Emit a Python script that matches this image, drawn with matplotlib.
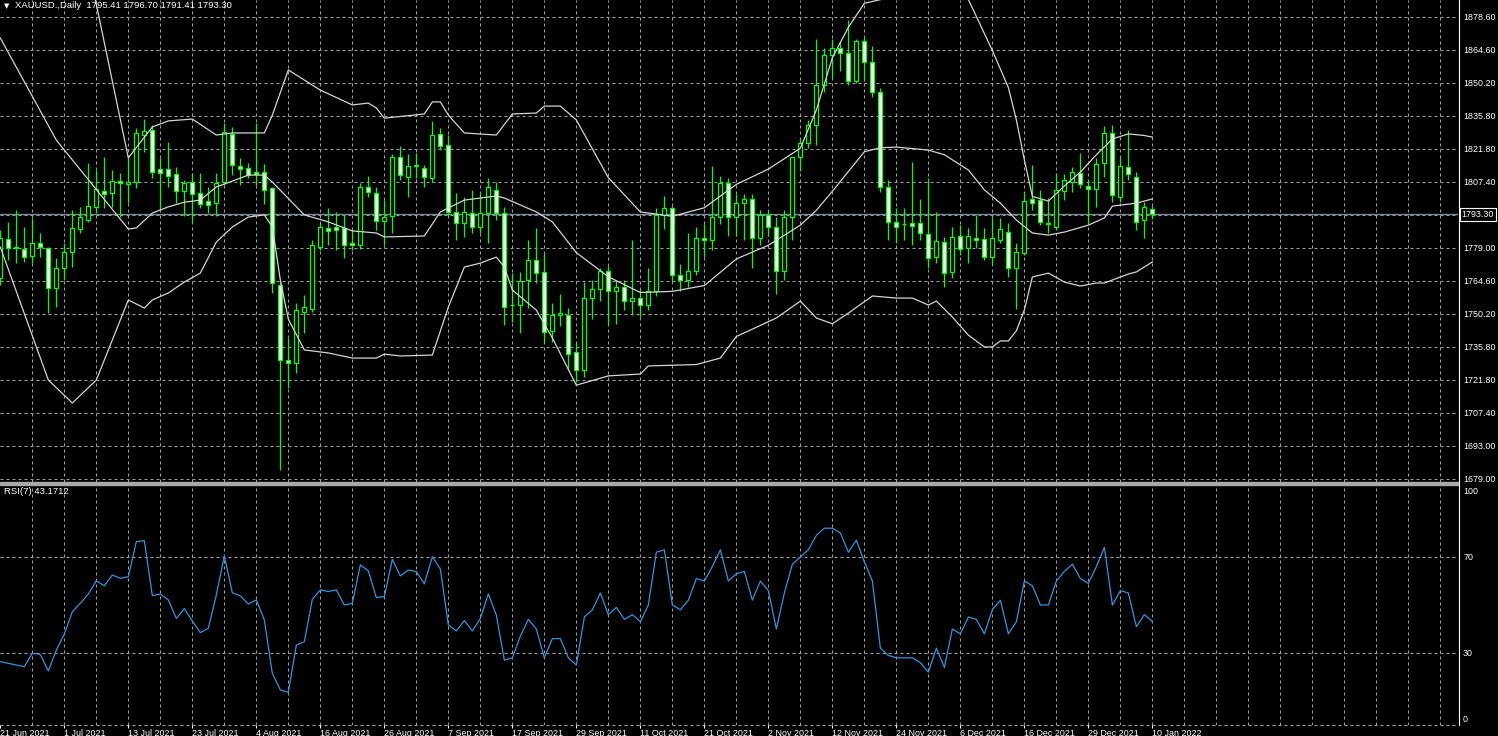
import matplotlib
matplotlib.use("Agg")
import matplotlib.pyplot as plt
import numpy as np
from matplotlib.patches import Rectangle
from matplotlib.lines import Line2D

#-------------------------------------
# XAUUSD daily bars, bar 0 = 21 Jun 2021 ... bar 144 = 10 Jan 2022
opens = [1765.8, 1782.6, 1779.0, 1778.3, 1775.3, 1780.9, 1778.7, 1761.4, 1770.1, 1777.0,
         1787.0, 1790.8, 1796.4, 1803.3, 1802.5, 1807.6, 1806.3, 1807.2, 1827.5, 1829.7,
         1812.8, 1812.8, 1810.7, 1803.3, 1807.2, 1802.5, 1799.0, 1798.1, 1807.2, 1827.9,
         1814.1, 1813.3, 1811.5, 1811.5, 1804.6, 1762.7, 1730.4, 1729.1, 1751.1, 1752.4,
         1779.1, 1787.4, 1787.8, 1787.4, 1780.9, 1780.0, 1805.1, 1802.5, 1790.4, 1792.5,
         1818.0, 1809.4, 1814.1, 1813.3, 1808.9, 1827.9, 1823.2, 1794.3, 1789.5, 1793.8,
         1787.8, 1793.8, 1803.8, 1793.8, 1754.1, 1754.1, 1764.9, 1773.5, 1768.3, 1743.0,
         1750.0, 1750.0, 1734.0, 1726.0, 1757.0, 1761.0, 1769.0, 1760.0, 1762.0, 1756.0,
         1757.0, 1754.0, 1760.0, 1793.0, 1796.0, 1767.0, 1765.0, 1769.0, 1783.0, 1782.0,
         1792.0, 1807.0, 1792.0, 1798.0, 1800.0, 1783.0, 1793.0, 1788.0, 1769.0, 1792.0,
         1818.0, 1824.0, 1832.0, 1849.0, 1862.0, 1865.0, 1863.0, 1851.0, 1868.0, 1859.0,
         1846.0, 1805.0, 1790.0, 1789.1, 1789.5, 1789.5, 1784.8, 1774.8, 1781.3, 1768.3,
         1783.9, 1778.7, 1783.0, 1782.6, 1774.8, 1782.2, 1785.6, 1770.1, 1776.6, 1799.9,
         1799.4, 1789.4, 1787.8, 1803.3, 1807.2, 1811.1, 1805.5, 1804.2, 1815.4, 1828.4,
         1800.7, 1813.7, 1809.4, 1790.8, 1795.41]
highs = [1786.5, 1789.9, 1795.1, 1787.8, 1791.7, 1785.2, 1779.1, 1774.4, 1780.9, 1795.1,
         1796.4, 1815.4, 1812.4, 1818.0, 1812.4, 1811.1, 1818.0, 1830.5, 1834.4, 1831.8,
         1817.6, 1824.5, 1813.7, 1808.1, 1811.1, 1811.1, 1805.1, 1811.1, 1832.7, 1831.0,
         1817.6, 1815.4, 1832.7, 1815.0, 1805.1, 1764.0, 1739.9, 1755.0, 1758.4, 1782.2,
         1789.5, 1796.0, 1794.3, 1793.0, 1786.5, 1806.8, 1809.8, 1805.1, 1799.4, 1819.3,
         1822.8, 1819.3, 1819.7, 1814.5, 1833.6, 1830.5, 1827.5, 1802.5, 1800.7, 1803.8,
         1802.5, 1808.9, 1807.2, 1796.4, 1767.9, 1768.3, 1782.2, 1787.4, 1776.6, 1755.0,
         1759.0, 1753.0, 1738.0, 1764.0, 1765.0, 1770.0, 1771.0, 1765.0, 1765.0, 1782.0,
         1761.0, 1770.0, 1796.0, 1801.0, 1797.0, 1772.0, 1785.0, 1788.0, 1789.0, 1814.0,
         1810.0, 1809.0, 1802.0, 1802.0, 1802.0, 1795.0, 1795.0, 1792.0, 1795.0, 1818.0,
         1826.0, 1834.0, 1869.0, 1865.0, 1869.0, 1868.0, 1877.0, 1869.0, 1870.0, 1866.0,
         1848.0, 1808.0, 1796.0, 1796.0, 1815.8, 1799.9, 1808.9, 1794.3, 1783.5, 1787.8,
         1788.6, 1787.4, 1793.0, 1787.4, 1791.7, 1791.7, 1789.5, 1780.9, 1802.9, 1814.5,
         1803.8, 1800.3, 1811.1, 1810.7, 1813.7, 1819.7, 1808.1, 1817.6, 1831.4, 1831.8,
         1818.0, 1829.7, 1811.5, 1798.6, 1796.70]
lows = [1762.7, 1773.5, 1772.2, 1772.7, 1772.2, 1774.8, 1750.6, 1753.2, 1764.9, 1770.5,
        1785.2, 1789.9, 1793.8, 1796.0, 1796.4, 1792.1, 1798.1, 1804.6, 1820.2, 1808.9,
        1795.1, 1805.1, 1798.1, 1792.5, 1789.9, 1796.0, 1793.8, 1792.5, 1805.9, 1810.2,
        1805.9, 1808.9, 1805.9, 1797.7, 1759.3, 1682.9, 1718.3, 1724.7, 1742.0, 1751.1,
        1777.9, 1780.0, 1777.9, 1774.4, 1777.9, 1778.3, 1800.7, 1786.5, 1780.0, 1785.2,
        1808.1, 1800.7, 1808.9, 1805.1, 1807.2, 1821.0, 1792.1, 1782.2, 1783.5, 1785.2,
        1785.2, 1780.9, 1790.8, 1745.5, 1746.8, 1742.0, 1752.8, 1763.6, 1738.1, 1738.0,
        1745.0, 1726.0, 1721.0, 1723.0, 1748.0, 1756.0, 1746.0, 1746.0, 1752.0, 1750.0,
        1749.0, 1752.0, 1758.0, 1787.0, 1764.0, 1760.0, 1762.0, 1767.0, 1775.0, 1778.0,
        1789.0, 1784.0, 1784.0, 1782.0, 1770.0, 1780.0, 1784.0, 1759.0, 1765.0, 1782.0,
        1812.0, 1822.0, 1823.0, 1846.0, 1852.0, 1855.0, 1849.0, 1850.0, 1851.0, 1844.0,
        1803.0, 1782.0, 1781.0, 1782.2, 1780.0, 1782.2, 1770.1, 1772.2, 1761.9, 1765.8,
        1775.7, 1772.2, 1778.7, 1773.5, 1771.4, 1780.9, 1766.2, 1752.4, 1775.7, 1795.1,
        1788.6, 1785.2, 1786.5, 1799.4, 1802.9, 1804.6, 1789.5, 1796.4, 1809.4, 1798.6,
        1798.6, 1808.1, 1786.5, 1783.0, 1791.41]
closes = [1783.0, 1778.7, 1778.8, 1774.8, 1780.9, 1779.1, 1761.4, 1770.1, 1777.0, 1787.4,
          1792.1, 1796.8, 1804.2, 1802.0, 1807.6, 1806.8, 1807.2, 1828.4, 1829.2, 1811.5,
          1811.1, 1809.8, 1803.3, 1806.8, 1802.0, 1797.7, 1797.3, 1806.8, 1828.8, 1814.5,
          1812.8, 1810.2, 1810.7, 1803.8, 1763.6, 1730.4, 1729.1, 1751.9, 1753.2, 1780.0,
          1787.8, 1786.1, 1786.5, 1780.0, 1780.0, 1805.1, 1802.9, 1790.4, 1792.1, 1818.0,
          1810.2, 1814.1, 1814.3, 1809.4, 1827.5, 1822.8, 1794.3, 1789.5, 1794.3, 1787.8,
          1793.8, 1805.1, 1793.8, 1753.2, 1753.9, 1764.5, 1773.5, 1767.9, 1742.4, 1750.0,
          1750.5, 1733.0, 1726.0, 1757.0, 1761.0, 1769.0, 1760.0, 1762.0, 1756.0, 1757.0,
          1754.0, 1760.0, 1793.0, 1796.0, 1767.0, 1765.0, 1769.0, 1783.0, 1782.0, 1792.0,
          1807.0, 1792.0, 1798.0, 1800.0, 1783.0, 1793.0, 1788.0, 1769.0, 1792.0, 1818.0,
          1824.0, 1832.0, 1849.0, 1862.0, 1865.0, 1863.0, 1851.0, 1868.0, 1859.0, 1846.0,
          1805.0, 1790.0, 1788.0, 1788.9, 1788.2, 1785.2, 1774.4, 1781.7, 1767.9, 1783.5,
          1778.3, 1783.9, 1782.2, 1774.8, 1783.0, 1786.9, 1770.1, 1777.0, 1799.0, 1798.1,
          1789.9, 1789.0, 1803.8, 1808.1, 1811.5, 1806.3, 1804.2, 1815.0, 1828.4, 1801.6,
          1814.1, 1810.7, 1789.9, 1796.4, 1793.30]

# Bollinger bands, read at the bars where the lines bend
bb_upper_x = [10, 12, 16, 19, 21, 24, 27, 29, 33, 34, 36, 40, 44, 46, 47, 48, 53, 54, 55, 56,
              58, 62, 64, 67, 68, 70, 72, 76, 80, 84, 88, 92, 96, 100, 102, 104, 106, 108, 112, 118,
              121, 124, 126, 127, 128, 129, 131, 133, 135, 137, 139, 141, 143, 144]
bb_upper = [1915, 1884, 1817.6, 1831.0, 1833.6, 1834.4, 1827.5, 1828.4, 1828.4, 1836.1,
            1855.6, 1846.9, 1840.5, 1841.3, 1839.2, 1834.8, 1836.6, 1841.8, 1841.8, 1836.1,
            1828.4, 1827.5, 1836.6, 1837.0, 1840.0, 1840.0, 1834.0, 1809.1, 1794.3, 1792.4,
            1796.1, 1806.2, 1812.8, 1821.8, 1838.3, 1860.9, 1874.0, 1884.4, 1887.5, 1890.0,
            1886.0, 1864.0, 1848.0, 1834.0, 1816.7, 1801.0, 1799.0, 1805.5, 1811.5, 1819.0,
            1825.8, 1828.0, 1827.3, 1826.6]
bb_mid_x = [0, 7, 16, 17, 19, 21, 23, 25, 27, 29, 31, 33, 34, 38, 41, 44, 47, 48, 53, 55,
            58, 62, 63, 67, 69, 72, 76, 80, 84, 88, 92, 96, 100, 102, 104, 108, 110, 112, 116, 118,
            121, 123, 125, 127, 129, 131, 133, 136, 138, 139, 142, 144]
bb_mid = [1869.4, 1825.3, 1786.9, 1787.4, 1793.8, 1796.5, 1798.5, 1799.4, 1805.1, 1807.6,
          1810.2, 1810.2, 1807.2, 1793.0, 1790.0, 1786.1, 1785.2, 1783.5, 1783.9, 1794.3,
          1799.4, 1801.2, 1800.3, 1794.3, 1790.0, 1776.7, 1766.3, 1759.5, 1760.0, 1762.5,
          1774.0, 1779.9, 1788.6, 1795.0, 1803.2, 1820.3, 1822.0, 1822.3, 1821.0, 1819.0,
          1812.4, 1803.8, 1798.1, 1790.8, 1785.2, 1784.3, 1785.6, 1788.6, 1791.7, 1796.8,
          1798.1, 1799.9]
bb_lower_x = [0, 6, 9, 12, 16, 18, 19, 21, 23, 25, 27, 29, 31, 33, 34, 35, 36, 38, 41, 44,
              47, 48, 50, 54, 56, 58, 60, 62, 63, 64, 67, 69, 72, 76, 80, 81, 87, 90, 92, 97,
              100, 102, 104, 106, 109, 112, 114, 116, 117, 119, 121, 123, 124, 125, 126, 127, 128, 129, 131, 133,
              135, 137, 138, 141, 142, 144]
bb_lower = [1779.1, 1721.7, 1711.8, 1721.7, 1756.3, 1752.8, 1756.3, 1759.3, 1764.0, 1767.9,
            1781.3, 1787.8, 1792.1, 1793.0, 1787.8, 1764.9, 1748.0, 1734.7, 1733.4, 1731.2,
            1731.2, 1732.9, 1732.1, 1732.5, 1753.2, 1770.5, 1772.2, 1774.8, 1770.5, 1760.6,
            1751.9, 1739.9, 1719.5, 1723.5, 1724.3, 1727.8, 1728.4, 1731.2, 1740.5, 1748.5,
            1755.8, 1748.5, 1746.0, 1750.6, 1758.0, 1757.1, 1757.1, 1754.1, 1755.8, 1748.9,
            1741.1, 1736.0, 1736.0, 1738.6, 1738.6, 1743.0, 1752.0, 1766.2, 1767.9, 1764.0,
            1762.3, 1763.6, 1763.6, 1767.5, 1768.4, 1772.7]

# RSI(7) per bar
rsi = [26.4, 25.7, 25.0, 24.3, 29.9, 29.4, 22.5, 31.2, 37.9, 47.2,
       50.7, 54.6, 60.1, 58.0, 62.5, 61.1, 61.8, 76.4, 76.8, 53.9,
       54.6, 52.1, 44.4, 48.5, 43.3, 38.5, 40.3, 54.2, 70.5, 55.1,
       53.8, 50.4, 52.1, 43.8, 21.5, 14.6, 13.6, 33.3, 34.7, 52.4,
       56.3, 55.6, 56.3, 50.0, 50.7, 66.7, 64.2, 53.1, 53.5, 69.0,
       62.1, 64.6, 63.9, 58.8, 70.1, 65.0, 41.7, 39.2, 43.5, 39.2,
       44.4, 54.6, 45.8, 27, 28, 37, 44, 40, 28, 36,
       36, 28, 25, 45, 48, 55, 46, 49, 44, 46,
       43, 50, 72, 73, 50, 48, 52, 61, 60, 66,
       73, 60, 63, 64, 52, 60, 56, 40, 55, 67,
       70, 73, 79, 82, 82, 80, 72, 77, 68, 60,
       32, 29, 28, 28, 28, 26, 22, 32, 24, 40,
       38, 45, 44, 38, 48, 52, 38, 43, 60, 58,
       50, 50, 60, 64, 67, 61, 59, 66, 74, 50,
       56, 55, 41, 46, 43.17]

date_ticks = list(range(0, 145, 8))
date_labels = ["21 Jun 2021", "1 Jul 2021", "13 Jul 2021", "23 Jul 2021", "4 Aug 2021",
               "16 Aug 2021", "26 Aug 2021", "7 Sep 2021", "17 Sep 2021", "29 Sep 2021",
               "11 Oct 2021", "21 Oct 2021", "2 Nov 2021", "12 Nov 2021", "24 Nov 2021",
               "6 Dec 2021", "16 Dec 2021", "29 Dec 2021", "10 Jan 2022"]
price_labels = ["1679.00", "1693.00", "1707.40", "1721.80", "1735.80", "1750.20", "1764.60",
                "1779.00", "", "1807.40", "1821.80", "1835.80", "1850.20", "1864.60", "1878.60"]
last_price = 1793.30
#-------------------------------------

LIME = "#00ff00"
GRID = "#a0a0a0"
BAND = "#d4d4d4"
FONT = "Liberation Sans"
FS = 6.4
W, H = 1498, 736

def box(x0, y0, x1, y1):
    return [x0 / W, 1 - y1 / H, (x1 - x0) / W, (y1 - y0) / H]

fig = plt.figure(figsize=(W / 100, H / 100), dpi=100, facecolor="black")
ax = fig.add_axes(box(0, 0, 1458, 482))
ax2 = fig.add_axes(box(0, 485, 1458, 725), sharex=ax)

for a in (ax, ax2):
    a.set_facecolor("black")
    for s in a.spines.values():
        s.set_visible(False)
    for v in range(4, 184, 4):
        a.axvline(v, color=GRID, lw=0.72, ls=(0, (3, 3)), zorder=1)

ax.set_xlim(-0.04, 182.2)
ax.set_ylim(1677.68, 1885.81)
ax2.set_ylim(0, 100)

# price grid
grid_levels = np.linspace(1679.0, 1878.6, len(price_labels))
for g in grid_levels:
    ax.axhline(g, color=GRID, lw=0.72, ls=(0, (3, 3)), zorder=1)
ax.axhline(last_price, color="#778899", lw=1, zorder=2)

# candles
x = np.arange(len(closes))
o = np.array(opens); c = np.array(closes); hi = np.array(highs); lo = np.array(lows)
bull = c >= o
ax.vlines(x, lo, hi, color=LIME, lw=0.9, zorder=3)
ax.bar(x, np.maximum(np.abs(c - o), 0.35), bottom=np.minimum(o, c), width=0.5,
       color=np.where(bull, "black", "white"), edgecolor=LIME, linewidth=0.9, zorder=4)

# bollinger bands
ax.plot(bb_upper_x, bb_upper, color=BAND, lw=0.9, zorder=5)
ax.plot(bb_mid_x, bb_mid, color=BAND, lw=0.9, zorder=5)
ax.plot(bb_lower_x, bb_lower, color=BAND, lw=0.9, zorder=5)

ax.yaxis.tick_right()
ax.set_yticks(grid_levels)
ax.set_yticklabels(price_labels)
ax.tick_params(axis="y", length=0, pad=3.6, labelsize=FS, labelcolor="white")
ax.tick_params(axis="x", bottom=False, labelbottom=False)
for t in ax.get_yticklabels():
    t.set_fontfamily(FONT)
ax.annotate(f"{last_price:.2f}", xy=(1.0, last_price), xycoords=("axes fraction", "data"),
            xytext=(2.6, 0), textcoords="offset points", ha="left", va="center",
            fontsize=FS, color="white", family=FONT,
            bbox=dict(boxstyle="square,pad=0.2", fc="black", ec="white", lw=0.8))

# RSI panel
ax2.plot(x, rsi, color="#2f95dc", lw=0.9, zorder=3)
for g in (70, 30):
    ax2.axhline(g, color=GRID, lw=0.72, ls=(0, (3, 3)), zorder=1)
ax2.axhline(0, color=GRID, lw=0.72, ls=(0, (3, 3)), zorder=1, clip_on=False)
ax2.yaxis.tick_right()
ax2.set_yticks([97.5, 70, 30, 2.9])
ax2.set_yticklabels(["100", "70", "30", "0"])
ax2.tick_params(axis="y", length=0, pad=3.6, labelsize=FS, labelcolor="white")
ax2.set_xticks(date_ticks)
ax2.set_xticklabels(date_labels)
ax2.tick_params(axis="x", length=2.5, width=0.8, color="white", pad=0.3,
                labelsize=FS, labelcolor="white")
for t in ax2.get_xticklabels():
    t.set_horizontalalignment("left")
    t.set_fontfamily(FONT)
for t in ax2.get_yticklabels():
    t.set_fontfamily(FONT)

# separator and right scale line
fig.patches.append(Rectangle((0, 1 - 485 / H), 1458 / W, 3 / H, transform=fig.transFigure,
                             color="#a8a8a8", zorder=10))
fig.add_artist(Line2D([1458.5 / W] * 2, [1 - 725 / H, 1], transform=fig.transFigure,
                      color="white", lw=0.8))

fig.text(4 / W, 1 - 6 / H, "\u25bc", color="white", fontsize=5, va="center", ha="left")
fig.text(15 / W, 1 - 6 / H, "XAUUSD.,Daily  1795.41 1796.70 1791.41 1793.30",
         color="white", fontsize=6.8, va="center", ha="left", family=FONT)
fig.text(4 / W, 1 - 492 / H, "RSI(7) 43.1712", color="white", fontsize=6.8,
         va="center", ha="left", family=FONT)

fig.savefig("out.png", dpi=100, facecolor="black")
